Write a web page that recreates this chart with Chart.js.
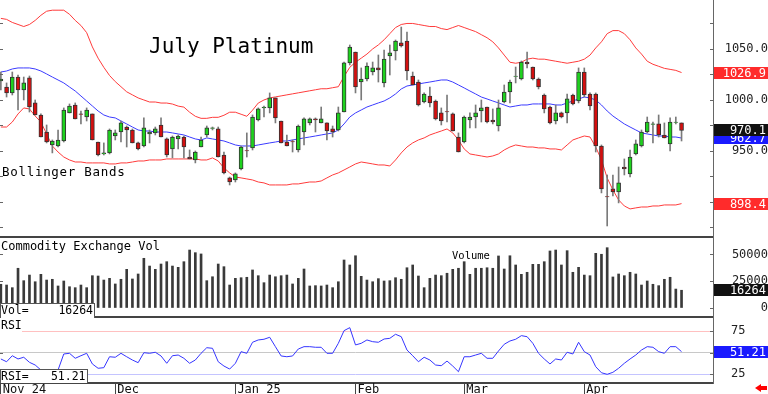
<!DOCTYPE html>
<html>
<head>
<meta charset="utf-8">
<title>July Platinum</title>
<script src="https://cdn.jsdelivr.net/npm/chart.js@4.4.1/dist/chart.umd.min.js"></script>
<style>
  html, body { margin: 0; padding: 0; background: #fff; }
  #wrap { position: relative; width: 768px; height: 394px; overflow: hidden; background: #fff;
          font-family: "DejaVu Sans Mono", monospace; color: #000; }
  canvas { position: absolute; left: -2px; }
  .t { position: absolute; white-space: pre; line-height: 1; }
  .box { position: absolute; background: #fff; border: 1px solid #555; box-sizing: border-box; }
</style>
</head>
<body>
<div id="wrap">
  <canvas id="price" width="770" height="238" style="top:0;width:770px;height:238px"></canvas>
  <canvas id="volume" width="770" height="80" style="top:238px;width:770px;height:80px"></canvas>
  <canvas id="rsi" width="770" height="76" style="top:318px;width:770px;height:76px"></canvas>

  <div class="t" style="left:149px;top:35.5px;font-size:21px">July Platinum</div>
  <div class="t" style="left:2px;top:166px;font-size:12.5px;letter-spacing:0.7px">Bollinger Bands</div>
  <div class="t" style="left:1px;top:240px;font-size:12px">Commodity Exchange Vol</div>
  <div class="t" style="left:452px;top:250px;font-size:10.5px">Volume</div>
  <div class="box" style="left:0;top:303px;width:95px;height:15px;border-bottom:none">
    <span class="t" style="left:0;top:1.3px;font-size:11.5px">Vol=</span>
    <span class="t" id="volLast" style="right:1px;top:1.3px;font-size:11.5px"></span>
  </div>
  <div class="t" style="left:0;top:319px;width:22px;height:13px;background:#fff"></div>
  <div class="t" style="left:1px;top:320.3px;font-size:11.5px">RSI</div>
  <div class="box" style="left:0;top:369px;width:88px;height:14px;border-bottom:none">
    <span class="t" style="left:0;top:1.3px;font-size:11.5px">RSI=</span>
    <span class="t" id="rsiLast" style="right:1.5px;top:1.3px;font-size:11.5px"></span>
  </div>
  <div style="position:absolute;left:755px;top:384px;width:0;height:0;border-top:4px solid transparent;border-bottom:4px solid transparent;border-right:6px solid #f00"></div>
  <div style="position:absolute;left:760px;top:386px;width:7px;height:4px;background:#f00"></div>
</div>

<script>
// month labels on the time axis (index of first trading day)
const monthTicks = {0: 'Nov 24', 20: 'Dec', 41: 'Jan 25', 62: 'Feb', 81: 'Mar', 102: 'Apr'}
const days = Array.from({length: 125}, (_, i) => monthTicks[i] || '')

// tick values of the three right-hand axes
const priceTicks = [875, 900, 925, 950, 975, 1000, 1025, 1050, 1075]
const priceLabels = [950, 1000, 1050]
const volumeTicks = [0, 25000, 50000]
const rsiTicks = [25, 50, 75]

const opens = [1018.6, 1012.7, 1006.9, 1022.5, 1009.8, 1021.6, 997.1, 985.3, 968.6, 955.9,
  954.9, 959.8, 987.3, 995.1, 986.3, 983.3, 986.3, 958.8, 947.1, 948.1,
  964.7, 968.6, 973.5, 970.6, 957.9, 954.9, 966.7, 967.7, 975.5, 961.8,
  952, 961.8, 963.7, 944.1, 941.2, 953.9, 965.7, 972.1, 971.6, 946.1,
  923.6, 921.6, 932.4, 950.5, 953, 980.4, 992.2, 992.2, 1002, 979.4,
  958.8, 959.3, 951, 968.6, 977.5, 981.4, 977.5, 977.5, 971.6, 970.6,
  988.2, 1036.3, 1047, 1017.6, 1020.6, 1027.4, 1031.4, 1016.7, 1043.1, 1048,
  1055.9, 1057.8, 1023.5, 1017.6, 998, 1003.9, 999, 987.3, 988.7, 986.3,
  963.7, 958.8, 980.4, 983.3, 989.2, 993.1, 980.4, 974.5, 998, 1007.8,
  1023, 1020.6, 1037.2, 1032.3, 1020.6, 1004.9, 993.1, 979.4, 987.3, 987.3,
  1004.9, 999, 1027.4, 1005.9, 1005.9, 954.9, 905.4, 912.8, 909.8, 934.3,
  927.5, 947.1, 954.9, 968.6, 976, 976.5, 965.7, 956.9, 978, 977.5]
const highs = [1027.4, 1016.7, 1027.4, 1024.5, 1022.5, 1023.5, 1000, 986.3, 975.5, 960.8,
  970.6, 992.2, 996.1, 997.1, 989.2, 992.2, 986.3, 958.8, 957.9, 971.6,
  970.6, 979.4, 974.5, 971.6, 958.8, 982.4, 970.6, 973.5, 982.4, 962.8,
  964.7, 965.7, 964.7, 951, 950, 963.7, 974.5, 973.5, 973.5, 949,
  924.5, 928.5, 954.9, 967.7, 985.3, 992.2, 994.1, 1006.9, 1002, 979.4,
  965.7, 960.8, 975.5, 982.4, 982.4, 982.4, 993.1, 977.5, 974.5, 993.1,
  1037.2, 1053.9, 1047, 1031.4, 1036.3, 1037.2, 1044.1, 1049, 1053.9, 1058.8,
  1071.5, 1066.6, 1027.4, 1019.6, 1006.9, 1012.7, 1000, 992.2, 1004.9, 987.3,
  967.7, 984.3, 987.3, 995.1, 1000, 993.1, 991.2, 1000, 1014.7, 1019.6,
  1032.3, 1038.2, 1047, 1032.3, 1021.6, 1005.9, 994.1, 995.1, 988.2, 1005.9,
  1005.9, 1031.4, 1031.4, 1006.9, 1006.9, 955.9, 926.5, 926.5, 934.3, 942.2,
  951, 960.8, 970.6, 983.3, 978.4, 985.3, 977.5, 982.4, 983.3, 977.5]
const lows = [1009.8, 1002.9, 1004.9, 990.2, 1000, 988.2, 985.3, 963.7, 957.9, 948.1,
  953.9, 958.8, 987.3, 981.4, 976.5, 979.4, 960.8, 945.1, 946.1, 947.1,
  960.8, 958.8, 953.9, 957.9, 951, 953.9, 957.9, 965.7, 963.7, 944.1,
  943.2, 952, 943.2, 942.2, 938.3, 953.9, 963.7, 970.6, 944.1, 927.5,
  916.7, 919.6, 931.4, 944.1, 951, 979.4, 983.3, 987.3, 977.5, 957.9,
  954.9, 949, 949, 955.9, 975.5, 968.6, 977.5, 960.8, 963.7, 969.6,
  988.2, 1034.3, 1006.9, 1000, 1018.6, 1024.5, 1017.6, 1012.7, 1024.5, 1039.2,
  1051.9, 1019.6, 1014.7, 994.1, 997.1, 993.1, 980.4, 975.5, 978.4, 969.6,
  949, 957.9, 972.6, 972.6, 978.4, 977.5, 976.5, 969.6, 997.1, 997.1,
  1016.7, 1019.6, 1031.4, 1019.6, 1010.8, 987.3, 976.5, 976.5, 982.4, 977.5,
  995.1, 997.1, 1002.9, 990.2, 949, 908.9, 876.5, 905.9, 899.1, 926.5,
  924.5, 946.1, 953.9, 967.7, 957.9, 963.7, 962.8, 950, 976.5, 959.8]
const closes = [1020.6, 1006.9, 1022.5, 1009.8, 1016.7, 993.1, 985.3, 963.7, 958.8, 959.8,
  960.8, 990.2, 994.1, 981.4, 985.8, 990.2, 960.8, 946.1, 948.1, 970.6,
  967.7, 977.5, 970.6, 957.9, 952, 972.6, 968.6, 971.6, 963.7, 946.1,
  963.7, 964.7, 953.9, 942.2, 949, 960.8, 972.6, 972.6, 944.1, 928.5,
  919.6, 927.5, 953.9, 950, 983.3, 991.2, 993.1, 1002, 982.4, 957.9,
  954.9, 958.8, 974.5, 981.4, 981.4, 980.4, 981.4, 969.6, 968.6, 987.3,
  1036.3, 1051.9, 1012.7, 1020.6, 1033.3, 1031.4, 1029.4, 1040.2, 1046.1, 1057.8,
  1052.9, 1028.4, 1014.7, 995.1, 1005.9, 997.1, 981.4, 979.4, 988.2, 969.6,
  949, 983.3, 983.3, 987.3, 992.2, 978.4, 978.4, 992.2, 1007.8, 1017.6,
  1023.5, 1037.2, 1035.3, 1020.6, 1012.7, 991.2, 977.5, 987.3, 983.3, 1001,
  996.1, 1027.4, 1004.9, 994.1, 954.9, 912.8, 904.9, 909.8, 918.7, 932.4,
  944.1, 956.9, 968.6, 978.4, 976.5, 965.7, 962.8, 978.4, 978.4, 970.1]

const bbUpper = [1080, 1079, 1076, 1074, 1072, 1074, 1078, 1083, 1087, 1088,
  1088, 1088, 1084, 1078, 1073, 1066, 1052, 1041, 1032, 1024,
  1018, 1013, 1008, 1005, 1002, 1000, 998, 998, 997, 997,
  996, 994, 993, 988, 984, 982, 982, 983, 983, 985,
  988, 988, 986, 984, 990, 997, 1000, 1002, 1003, 1004,
  1005, 1006, 1007, 1008, 1009, 1010, 1011, 1011, 1012, 1013,
  1023, 1032, 1037, 1041, 1045, 1050, 1054, 1059, 1065, 1071,
  1074, 1075, 1075, 1074, 1073, 1072, 1072, 1070, 1069, 1071,
  1073, 1071, 1069, 1067, 1064, 1061, 1057, 1051, 1044, 1037,
  1036, 1037, 1040, 1041, 1040, 1040, 1039, 1038, 1037, 1036,
  1037, 1038, 1040, 1044, 1051, 1057, 1065, 1068, 1068, 1065,
  1059, 1051, 1045, 1038, 1035, 1033, 1031, 1030, 1029, 1026.9]
const bbMid = [1027.4, 1028.4, 1030.4, 1031.4, 1031.4, 1031.4, 1030.4, 1028.4, 1025.5, 1022.5,
  1019.6, 1016.7, 1012.7, 1008.8, 1003.9, 999, 994.1, 989.2, 985.3, 983.3,
  982.4, 979.4, 976.5, 973.5, 970.6, 969.6, 969.6, 968.6, 968.6, 968.6,
  967.7, 966.7, 965.7, 963.7, 961.8, 960.8, 962.8, 961.8, 960.8, 959.8,
  957.9, 955.9, 954.9, 954.9, 954.9, 955.9, 956.9, 957.9, 958.8, 959.8,
  959.8, 960.8, 961.8, 962.8, 963.7, 964.7, 965.7, 966.7, 967.7, 970.6,
  976.5, 983.3, 987.3, 990.2, 993.1, 995.1, 997.1, 999, 1002, 1005.9,
  1010.8, 1013.7, 1014.7, 1015.7, 1016.7, 1017.6, 1018.6, 1019.6, 1019.6, 1017.6,
  1014.7, 1011.8, 1008.8, 1005.9, 1002.9, 1001, 999, 997.1, 995.1, 993.1,
  994.1, 995.1, 995.1, 996.1, 996.1, 996.1, 996.1, 995.1, 995.1, 997.1,
  999, 1001, 1002.9, 1002, 1000, 995.1, 989.2, 984.3, 980.4, 976.5,
  973.5, 970.6, 967.7, 966.7, 965.7, 964.7, 964.7, 963.7, 963.7, 962.7]
const bbLower = [973.5, 973.5, 978.4, 986.3, 992.2, 991.2, 984.3, 978.4, 966.7, 954.9,
  949, 944.1, 941.2, 939.2, 939.2, 938.3, 938.3, 938.3, 938.3, 937.3,
  937.3, 938.3, 938.3, 939.2, 940.2, 940.2, 941.2, 941.2, 941.2, 942.2,
  942.2, 942.2, 942.2, 942.2, 942.2, 941.2, 941.2, 943.2, 940.2, 933.4,
  928.5, 924.5, 923.6, 922.6, 921.6, 919.6, 918.7, 916.7, 916.7, 916.7,
  916.7, 917.7, 917.7, 918.7, 919.6, 919.6, 920.6, 923.6, 926.5, 928.5,
  931.4, 934.3, 937.3, 939.2, 938.3, 937.3, 936.3, 936.3, 935.3, 941.2,
  948.1, 953.9, 957.9, 960.8, 962.8, 965.7, 967.7, 969.6, 971.6, 967.7,
  960.8, 952, 947.1, 946.1, 945.1, 944.1, 945.1, 947.1, 951, 953.9,
  955.9, 954.9, 953.9, 953.9, 953, 953, 952, 952, 951, 955.9,
  960.8, 962.8, 964.7, 963.7, 953.9, 941.2, 923.6, 911.8, 902, 896.1,
  893.2, 894.2, 895.1, 895.1, 896.1, 896.1, 897.1, 897.1, 897.1, 898.4]

const volumes = [21900, 21200, 18700, 37000, 25300, 30600, 24300, 31300, 25900, 26600,
  20300, 25000, 19600, 18700, 21200, 18700, 30000, 29700, 25900, 27500,
  22200, 26600, 36000, 26900, 31600, 46400, 39100, 36000, 41000, 43200,
  39100, 37900, 43200, 54200, 51700, 50500, 25300, 29000, 41000, 38500,
  21200, 27500, 28100, 28500, 35400, 30000, 23400, 30600, 29000, 30000,
  30600, 22200, 27500, 36300, 20300, 20600, 20300, 21200, 18700, 24300,
  44800, 40100, 48800, 29400, 25900, 24300, 27200, 25000, 25300, 28100,
  26600, 37500, 40100, 29700, 18700, 27500, 30600, 30000, 32300, 36000,
  37000, 43200, 31300, 37000, 37000, 37500, 37000, 48600, 36300, 48800,
  40100, 31300, 33200, 40700, 40700, 43200, 53300, 54200, 40100, 53600,
  33200, 37900, 30600, 30000, 51100, 50200, 56400, 28800, 31600, 30000,
  33200, 31600, 21200, 25000, 21900, 20600, 26600, 28500, 17400, 16264]

const rsi = [42.7, 39.5, 46.5, 42.7, 44.7, 38.8, 35.7, 29.9, 27, 26.5,
  29.9, 48.5, 49.3, 43.5, 46.5, 49.3, 36.9, 31.9, 32.6, 45.3,
  44.7, 49.3, 45.3, 41.5, 38.4, 50, 49.3, 50.5, 46.2, 37.7,
  46.5, 47.3, 43.5, 37.7, 41.5, 49.3, 55.8, 55.1, 39.5, 34.5,
  31, 37.7, 51.2, 49.3, 62.1, 64.8, 65.6, 67.9, 57, 46.2,
  45.3, 46.2, 54.3, 57, 57, 56.3, 56.3, 49.3, 49.3, 60.9,
  75.6, 79.1, 59, 60.9, 64.8, 62.8, 62.1, 65.9, 66.7, 71.4,
  68.6, 53.1, 46.5, 39.5, 44.7, 41.5, 35.7, 34.9, 40.3, 34.5,
  27.9, 45.3, 45.3, 47.3, 49.3, 43.5, 43.5, 52, 59.8, 63.6,
  65.6, 69.8, 68.6, 60.9, 49.3, 42.7, 36.9, 42.7, 41.5, 50.5,
  48.5, 62.1, 51.2, 47.3, 33.7, 26.7, 24.9, 27.2, 31.9, 37.7,
  42.7, 47.3, 53.1, 57, 56.3, 51.2, 49.3, 57, 57, 51.21]

const last = (a) => a[a.length - 1]
document.getElementById("volLast").textContent = last(volumes)
document.getElementById("rsiLast").textContent = last(rsi).toFixed(2)

Chart.defaults.font.family = "DejaVu Sans Mono"
Chart.defaults.font.size = 12
Chart.defaults.color = "#222"

const MONO = {family: "DejaVu Sans Mono", size: 12}

// fixed-width right axis, no extra padding so the panels line up
const fitRight = (s) => {
  s.width = 55
  s.paddingTop = 0
  s.paddingBottom = 0
}
const useTicks = (values) => (s) => {
  s.ticks = values.map((v) => ({value: v}))
}

// coloured value tags at the right edge
const tagPlugin = {
  id: "tags",
  afterDraw(chart, args, opts) {
    const {ctx, chartArea} = chart
    const y = chart.scales.y
    ctx.save()
    ctx.font = '12px "DejaVu Sans Mono"'
    ctx.textAlign = "right"
    ctx.textBaseline = "middle"
    for (const tag of opts.items || []) {
      const py = Math.round(y.getPixelForValue(tag.value))
      ctx.fillStyle = tag.bg
      ctx.fillRect(chartArea.right + 1, py - 6, chart.width - chartArea.right - 1, 12)
      ctx.fillStyle = "#fff"
      ctx.fillText(tag.text, chart.width - 2, py + 0.5)
    }
    ctx.restore()
  },
}

// small tick marks on both edges and the dark rule under a panel
const framePlugin = {
  id: "frame",
  afterDraw(chart, args, opts) {
    const {ctx, chartArea} = chart
    const y = chart.scales.y
    ctx.save()
    ctx.strokeStyle = "#666"
    ctx.lineWidth = 1
    ctx.beginPath()
    y.ticks.forEach((t) => {
      const py = Math.round(y.getPixelForValue(t.value)) + 0.5
      ctx.moveTo(chartArea.right - 3, py)
      ctx.lineTo(chartArea.right, py)
      ctx.moveTo(2, py)
      ctx.lineTo(5, py)
    })
    ctx.stroke()
    if (opts.rule) {
      ctx.fillStyle = "#444"
      ctx.fillRect(0, chart.height - 2, chartArea.right, 2)
    }
    ctx.restore()
  },
}

const hiddenX = {display: false, offset: true}

new Chart(document.getElementById("price"), {
  type: "bar",
  data: {
    labels: days,
    datasets: [
      {
        label: "body",
        data: opens.map((o, i) => [o, closes[i]]),
        backgroundColor: opens.map((o, i) => (closes[i] >= o ? "#1ed21e" : "#d40f0f")),
        borderColor: "#333",
        borderWidth: 1,
        borderSkipped: false,
        barThickness: 4,
        grouped: false,
        order: 0,
      },
      {
        label: "wick",
        data: lows.map((l, i) => [l, highs[i]]),
        backgroundColor: "#7a7a7a",
        barThickness: 1,
        grouped: false,
        order: 1,
      },
      {type: "line", label: "upper", data: bbUpper, borderColor: "#ff3b3b", borderWidth: 1, pointRadius: 0, order: 2},
      {type: "line", label: "mid", data: bbMid, borderColor: "#3b3bff", borderWidth: 1, pointRadius: 0, order: 2},
      {type: "line", label: "lower", data: bbLower, borderColor: "#ff3b3b", borderWidth: 1, pointRadius: 0, order: 2},
    ],
  },
  options: {
    responsive: false,
    animation: false,
    events: [],
    scales: {
      x: hiddenX,
      y: {
        position: "right",
        min: 864.7,
        max: 1098,
        afterFit: fitRight,
        afterBuildTicks: useTicks(priceTicks),
        grid: {display: false},
        border: {display: true, color: "#666", width: 1},
        ticks: {
          autoSkip: false,
          crossAlign: "far",
          padding: 10,
          color: "#222",
          font: MONO,
          callback: (v) => (priceLabels.includes(v) ? v.toFixed(1) : ""),
        },
      },
    },
    plugins: {
      legend: {display: false},
      tooltip: {enabled: false},
      frame: {rule: true},
      tags: {
        items: [
          {value: last(bbUpper), text: last(bbUpper).toFixed(1), bg: "#ff2b2b"},
          {value: last(bbMid), text: last(bbMid).toFixed(1), bg: "#1a1aff"},
          {value: last(closes), text: last(closes).toFixed(1), bg: "#111"},
          {value: last(bbLower), text: last(bbLower).toFixed(1), bg: "#ff2b2b"},
        ],
      },
    },
  },
  plugins: [framePlugin, tagPlugin],
})

new Chart(document.getElementById("volume"), {
  type: "bar",
  data: {
    labels: days,
    datasets: [{label: "Volume", data: volumes, backgroundColor: "#3a3a3a", barThickness: 2}],
  },
  options: {
    responsive: false,
    animation: false,
    events: [],
    scales: {
      x: hiddenX,
      y: {
        position: "right",
        min: -9900,
        max: 65540,
        afterFit: fitRight,
        afterBuildTicks: useTicks(volumeTicks),
        grid: {display: false},
        border: {display: true, color: "#666", width: 1},
        ticks: {
          autoSkip: false,
          crossAlign: "far",
          padding: 17,
          color: "#222",
          font: MONO,
          callback: (v) => String(v),
        },
      },
    },
    plugins: {
      legend: {display: false},
      tooltip: {enabled: false},
      frame: {rule: true},
      tags: {items: [{value: last(volumes), text: String(last(volumes)), bg: "#111"}]},
    },
  },
  plugins: [framePlugin, tagPlugin],
})

const rsiLevels = {25: "#c4c4ff", 50: "#c8c8c8", 75: "#ffc0c0"}

new Chart(document.getElementById("rsi"), {
  type: "line",
  data: {
    labels: days,
    datasets: [{label: "RSI", data: rsi, borderColor: "#3535ff", borderWidth: 1, pointRadius: 0}],
  },
  options: {
    responsive: false,
    animation: false,
    events: [],
    scales: {
      x: {
        offset: true,
        afterFit: (s) => {
          s.height = 11
          s.paddingLeft = 0
          s.paddingRight = 0
        },
        grid: {
          display: true,
          offset: false,
          drawOnChartArea: false,
          drawTicks: true,
          tickLength: 11,
          color: (c) => (days[c.index] ? "#444" : "rgba(0,0,0,0)"),
        },
        border: {display: true, color: "#444", width: 2},
        ticks: {autoSkip: false, maxRotation: 0, minRotation: 0, align: "start", labelOffset: 2, padding: -11, color: "#111", font: MONO},
      },
      y: {
        position: "right",
        min: 14.8,
        max: 90.3,
        afterFit: fitRight,
        afterBuildTicks: useTicks(rsiTicks),
        grid: {display: true, drawTicks: false, color: (c) => (c.tick && rsiLevels[c.tick.value]) || "rgba(0,0,0,0)"},
        border: {display: true, color: "#666", width: 1},
        ticks: {autoSkip: false, crossAlign: "near", padding: 18, color: "#222", font: MONO},
      },
    },
    plugins: {
      legend: {display: false},
      tooltip: {enabled: false},
      frame: {rule: false},
      tags: {items: [{value: last(rsi), text: last(rsi).toFixed(2), bg: "#1a1aff"}]},
    },
  },
  plugins: [framePlugin, tagPlugin],
})
</script>
</body>
</html>
